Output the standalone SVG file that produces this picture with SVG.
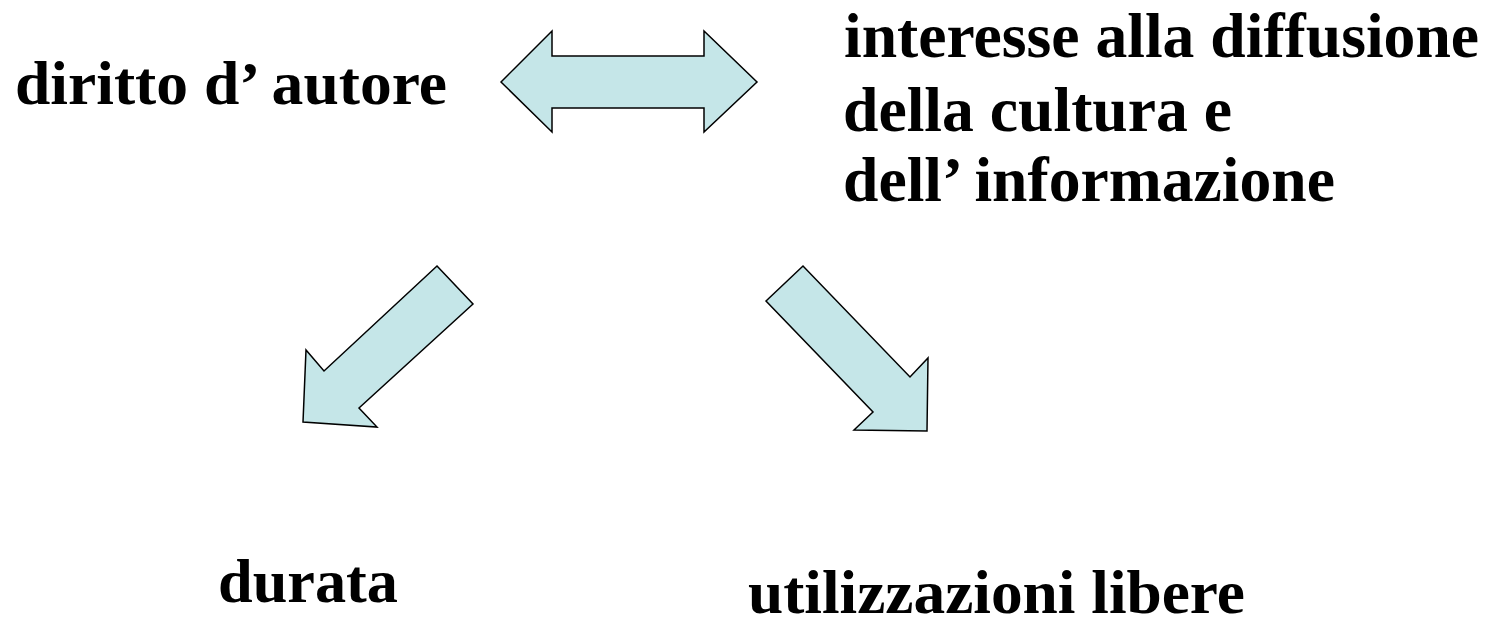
<svg xmlns="http://www.w3.org/2000/svg" width="1490" height="621" viewBox="0 0 1490 621">
<style>
.t{font-family:"Liberation Serif","Times New Roman",serif;font-weight:bold;font-size:62px;fill:#000}
.r{font-size:64px}
.a{fill:#C5E6E8;stroke:#000;stroke-width:1.5;stroke-linejoin:miter}
</style>
<rect width="1490" height="621" fill="#fff"/>
<g id="node-diritto"><text class="t" x="15" y="104" textLength="432" lengthAdjust="spacingAndGlyphs">diritto d’ autore</text></g>
<g id="node-interesse">
<text class="t r" x="844" y="57" textLength="635" lengthAdjust="spacingAndGlyphs">interesse alla diffusione</text>
<text class="t r" x="843" y="131" textLength="389" lengthAdjust="spacingAndGlyphs">della cultura e</text>
<text class="t r" x="843" y="201" textLength="492" lengthAdjust="spacingAndGlyphs">dell’ informazione</text>
</g>
<g id="node-durata"><text class="t" x="218" y="602" textLength="180" lengthAdjust="spacingAndGlyphs">durata</text></g>
<g id="node-utilizzazioni"><text class="t" x="748" y="613" textLength="497" lengthAdjust="spacingAndGlyphs">utilizzazioni libere</text></g>
<g id="connectors">
<polygon class="a" points="501,82 552,31 552,56 704,56 704,31 757,82 704,132 704,108 552,108 552,132"/>
<polygon class="a" points="437,266 473,304 359,408 377,427 303,422 306,350 324,371"/>
<polygon class="a" points="766,301 803,266 910,377 928,358 927,431 854,430 873,412"/>
</g>
</svg>
